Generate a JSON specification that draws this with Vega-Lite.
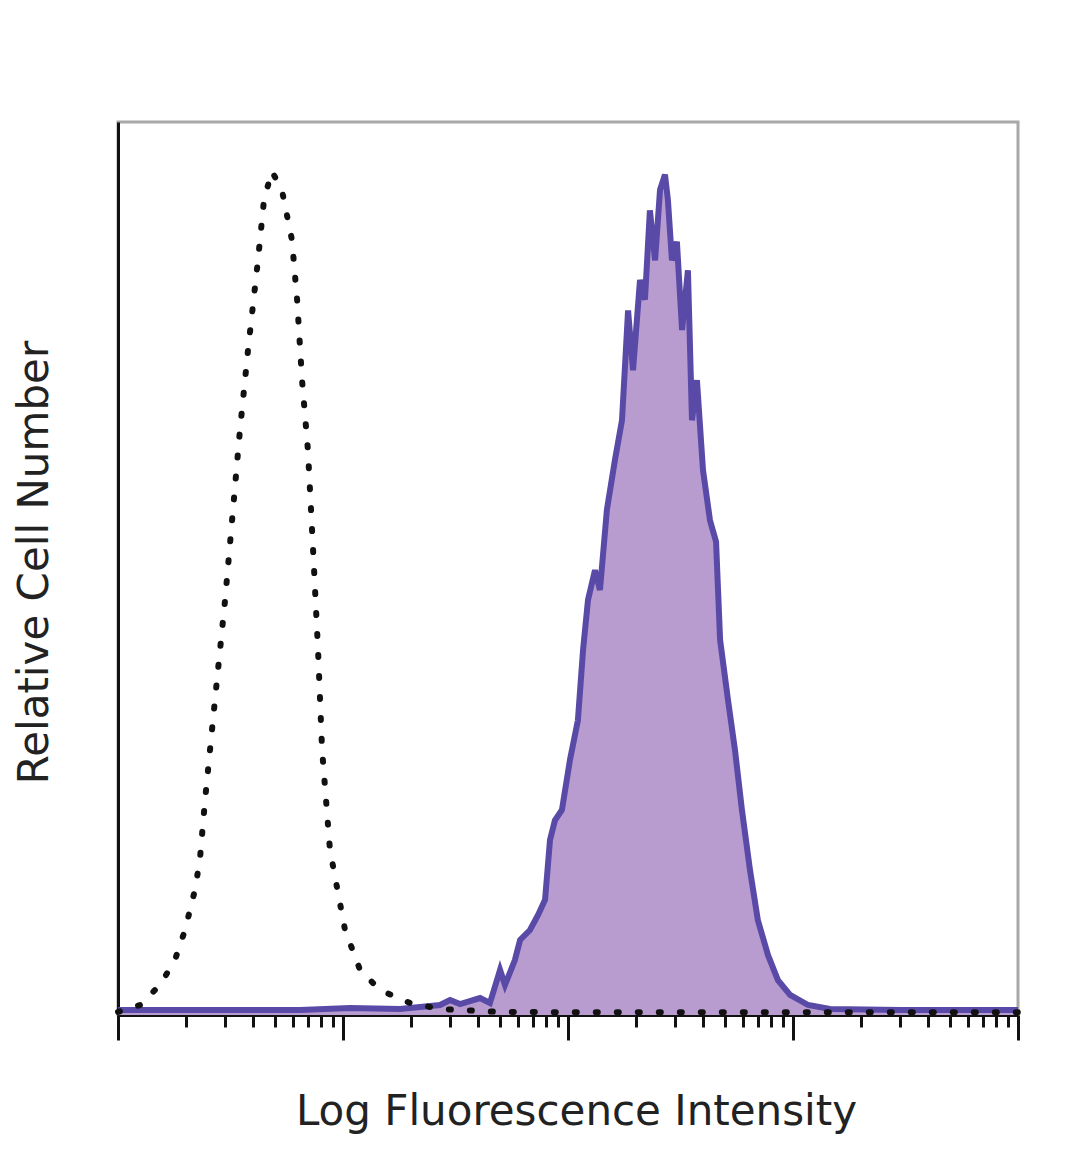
{
  "$schema": "https://vega.github.io/schema/vega-lite/v6.json",
  "autosize": "none",
  "width": 900,
  "height": 893,
  "padding": {"left": 118, "top": 122, "right": 62, "bottom": 154},
  "background": "white",
  "config": {
    "view": {"stroke": "#a8a8a8", "strokeWidth": 3},
    "axis": {"titleFont": "DejaVu Sans", "titleFontSize": 42, "titleFontWeight": "normal", "titleColor": "#222"}
  },
  "datasets": {
    "control": [
      {"x": 0, "y": 0.34}, {"x": 0.098, "y": 1.12}, {"x": 0.187, "y": 3.36}, {"x": 0.253, "y": 6.16},
      {"x": 0.298, "y": 9.52}, {"x": 0.342, "y": 14.0}, {"x": 0.364, "y": 17.4}, {"x": 0.387, "y": 24.1},
      {"x": 0.431, "y": 35.3}, {"x": 0.476, "y": 46.5}, {"x": 0.507, "y": 55.4}, {"x": 0.542, "y": 65.5},
      {"x": 0.578, "y": 74.5}, {"x": 0.622, "y": 84.5}, {"x": 0.649, "y": 91.3}, {"x": 0.684, "y": 94.5},
      {"x": 0.729, "y": 92.3}, {"x": 0.773, "y": 86.8}, {"x": 0.796, "y": 80.1}, {"x": 0.818, "y": 71.1},
      {"x": 0.844, "y": 63.3}, {"x": 0.867, "y": 52.1}, {"x": 0.889, "y": 40.9}, {"x": 0.907, "y": 29.7},
      {"x": 0.942, "y": 18.5}, {"x": 1.009, "y": 9.52}, {"x": 1.076, "y": 5.04}, {"x": 1.164, "y": 2.8},
      {"x": 1.298, "y": 1.34}, {"x": 1.431, "y": 0.67}, {"x": 1.698, "y": 0.34}, {"x": 2.142, "y": 0.3},
      {"x": 2.587, "y": 0.3}, {"x": 3.031, "y": 0.3}, {"x": 4, "y": 0.3}
    ],
    "stained": [
      {"x": 0, "y": 0.56}, {"x": 0.364, "y": 0.56}, {"x": 0.809, "y": 0.56}, {"x": 1.031, "y": 0.78},
      {"x": 1.253, "y": 0.67}, {"x": 1.431, "y": 1.12}, {"x": 1.476, "y": 1.68}, {"x": 1.52, "y": 1.23},
      {"x": 1.609, "y": 1.9}, {"x": 1.653, "y": 1.34}, {"x": 1.698, "y": 5.04}, {"x": 1.72, "y": 3.36},
      {"x": 1.764, "y": 6.16}, {"x": 1.787, "y": 8.4}, {"x": 1.831, "y": 9.52}, {"x": 1.867, "y": 11.2},
      {"x": 1.898, "y": 12.9}, {"x": 1.92, "y": 19.6}, {"x": 1.942, "y": 21.8}, {"x": 1.973, "y": 22.96},
      {"x": 2.009, "y": 28.6}, {"x": 2.044, "y": 33.0}, {"x": 2.067, "y": 40.9}, {"x": 2.089, "y": 46.5},
      {"x": 2.12, "y": 49.8}, {"x": 2.142, "y": 47.6}, {"x": 2.173, "y": 56.6}, {"x": 2.209, "y": 62.2},
      {"x": 2.24, "y": 66.6}, {"x": 2.267, "y": 78.9}, {"x": 2.289, "y": 72.2}, {"x": 2.32, "y": 82.3},
      {"x": 2.342, "y": 80.1}, {"x": 2.364, "y": 90.1}, {"x": 2.387, "y": 84.5}, {"x": 2.409, "y": 92.4},
      {"x": 2.431, "y": 94.1}, {"x": 2.444, "y": 91.3}, {"x": 2.462, "y": 84.5}, {"x": 2.484, "y": 86.6},
      {"x": 2.507, "y": 76.7}, {"x": 2.533, "y": 83.4}, {"x": 2.551, "y": 66.6}, {"x": 2.573, "y": 71.1},
      {"x": 2.6, "y": 61.0}, {"x": 2.631, "y": 55.4}, {"x": 2.658, "y": 53.0}, {"x": 2.676, "y": 42.0},
      {"x": 2.711, "y": 35.3}, {"x": 2.742, "y": 29.7}, {"x": 2.773, "y": 22.96}, {"x": 2.809, "y": 16.2},
      {"x": 2.844, "y": 10.6}, {"x": 2.889, "y": 6.7}, {"x": 2.933, "y": 3.9}, {"x": 2.987, "y": 2.24},
      {"x": 3.067, "y": 1.12}, {"x": 3.164, "y": 0.67}, {"x": 3.476, "y": 0.56}, {"x": 4, "y": 0.56}
    ]
  },
  "encoding": {
    "x": {
      "field": "x", "type": "quantitative",
      "scale": {"domain": [0, 4], "nice": false, "zero": false},
      "axis": {
        "title": "Log Fluorescence Intensity",
        "titlePadding": 50,
        "titleX": 458,
        "labels": false,
        "grid": false,
        "domainColor": "#111", "domainWidth": 3,
        "tickColor": "#111", "tickWidth": 3,
        "tickSize": {"condition": {"test": "datum.value % 1 === 0", "value": 25}, "value": 12},
        "values": [0, 0.30103, 0.47712, 0.60206, 0.69897, 0.77815, 0.8451, 0.90309, 0.95424,
                   1, 1.30103, 1.47712, 1.60206, 1.69897, 1.77815, 1.8451, 1.90309, 1.95424,
                   2, 2.30103, 2.47712, 2.60206, 2.69897, 2.77815, 2.8451, 2.90309, 2.95424,
                   3, 3.30103, 3.47712, 3.60206, 3.69897, 3.77815, 3.8451, 3.90309, 3.95424, 4]
      }
    },
    "y": {
      "field": "y", "type": "quantitative",
      "scale": {"domain": [0, 100], "nice": false},
      "axis": {
        "title": "Relative Cell Number",
        "titlePadding": 62,
        "titleY": 440,
        "labels": false, "ticks": false, "grid": false,
        "domainColor": "#111", "domainWidth": 3
      }
    }
  },
  "layer": [
    {
      "data": {"name": "stained"},
      "mark": {"type": "area", "color": "#b89ccf", "fillOpacity": 1, "opacity": 1, "interpolate": "linear",
               "line": {"color": "#5a4aa8", "strokeWidth": 6, "strokeJoin": "miter"}}
    },
    {
      "data": {"name": "control"},
      "mark": {"type": "line", "color": "#111", "strokeWidth": 6, "strokeDash": [2, 19], "strokeCap": "round"}
    }
  ]
}
